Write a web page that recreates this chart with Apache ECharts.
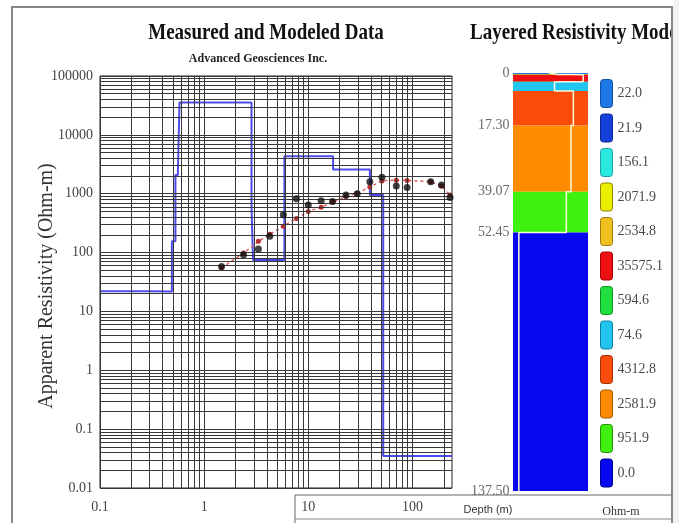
<!DOCTYPE html>
<html><head><meta charset="utf-8">
<script src="https://cdn.jsdelivr.net/npm/echarts@6/dist/echarts.min.js"></script>
<style>html,body{margin:0;padding:0;background:#fff}#c{width:679px;height:523px}</style>
</head><body><div id="c"></div>
<script>
// ---- data ----
const spacing  = [1.47, 2.39, 3.32, 4.27, 5.76, 7.7, 10, 13.3, 17.1, 23, 29.5, 39, 51, 70, 89, 150, 190, 230];
const measured = [58, 92, 115, 190, 440, 820, 640, 760, 740, 950, 1000, 1600, 1900, 1350, 1280, 1600, 1400, 860];
const modeled  = [55, 98, 155, 205, 280, 380, 500, 590, 720, 900, 1020, 1300, 1650, 1700, 1680, 1600, 1350, 950];
const layerRes    = [22.0, 21.9, 156.1, 2071.9, 2534.8, 35575.1, 594.6, 74.6, 4312.8, 2581.9, 951.9, 0.035];
const layerLabels = ['22.0','21.9','156.1','2071.9','2534.8','35575.1','594.6','74.6','4312.8','2581.9','951.9','0.0'];
const layerBottom = [0.30, 0.49, 0.53, 0.56, 0.58, 2.85, 2.95, 5.9, 17.30, 39.07, 52.45, 137.5];
const layerColors = ['#1e78e6','#1440d8','#28e8e0','#e8f000','#f0c020','#ee1010','#20e040','#22c4f0','#fa4c0a','#ff8c00','#40f010','#0808f0'];
const layerBorders= ['#1050a0','#0c2890','#20a0a0','#908000','#a07810','#a00000','#109020','#1080a0','#a03000','#a05800','#209008','#000090'];
const depthTicks      = [0, 17.30, 39.07, 52.45, 137.5];
const depthTickLabels = ['0','17.30','39.07','52.45','137.50'];
const yTickLabels = ['0.01','0.1','1','10','100','1000','10000','100000'];
const xTickLabels = ['0.1','1','10','100'];
const xMin = 0.1, xMax = 240, yMin = 0.01, yMax = 100000;

// ---- derived ----
function fmt(labels){ return function(v){ for (const l of labels){ if (Math.abs(Math.log10(v) - Math.log10(+l)) < 1e-6) return l; } return ''; }; }
const xGrid = [], yGrid = [];
for (const d of [0.1,1,10,100]) for (let m=1;m<=9;m++){ const v=+(d*m).toPrecision(3); if (v<=xMax) xGrid.push(v); }
for (const d of [0.01,0.1,1,10,100,1000,10000]) for (let m=1;m<=9;m++){ yGrid.push(+(d*m).toPrecision(3)); }
yGrid.push(yMax);
const gridLineData = xGrid.map(v=>({xAxis:v})).concat(yGrid.map(v=>({yAxis:v})));

const stepPts = [];
let topD = 0;
layerRes.forEach((r,i)=>{
  const last = i === layerRes.length-1;
  stepPts.push([Math.max(topD, xMin), r]);
  stepPts.push([last ? xMax : layerBottom[i], r]);
  topD = layerBottom[i];
});
const whitePts = [];
topD = 0;
layerRes.forEach((r,i)=>{ whitePts.push([r, topD]); whitePts.push([r, layerBottom[i]]); topD = layerBottom[i]; });

const serif = 'Liberation Serif';
const layerSeries = layerRes.map((r,i)=>({
  name: layerLabels[i], type:'custom', xAxisIndex:1, yAxisIndex:1, z:2,
  itemStyle:{color: layerColors[i], borderColor: layerBorders[i], borderWidth:1},
  encode:{x:0, y:[1,2]},
  data:[[r, i===0?0:layerBottom[i-1], layerBottom[i]]],
  renderItem:function(params, api){
    const cs = params.coordSys;
    const p0 = api.coord([api.value(0), api.value(1)]);
    const p1 = api.coord([api.value(0), api.value(2)]);
    return {type:'rect', shape:{x:cs.x, y:p0[1], width:cs.width, height:Math.max(p1[1]-p0[1],0.5)}, style:{fill: layerColors[i]}};
  }
}));

const chart = echarts.init(document.getElementById('c'), null, {renderer:'canvas'});
chart.setOption({
  animation:false,
  backgroundColor:'#ffffff',
  grid:[
    {left:100, top:76, width:352, height:412, show:true, borderColor:'#222', borderWidth:1, backgroundColor:'rgba(0,0,0,0)'},
    {left:513, top:73, width:75, height:418, show:false}
  ],
  xAxis:[
    {type:'log', logBase:10, gridIndex:0, min:xMin, max:xMax, splitNumber:4,
     axisLine:{show:false}, axisTick:{show:false}, splitLine:{show:false},
     axisLabel:{formatter:fmt(xTickLabels), fontFamily:serif, fontSize:14, color:'#444', margin:12, showMaxLabel:false}},
    {type:'log', logBase:10, gridIndex:1, min:yMin, max:yMax, show:false}
  ],
  yAxis:[
    {type:'log', logBase:10, gridIndex:0, min:yMin, max:yMax, splitNumber:7,
     axisLine:{show:false}, axisTick:{show:false}, splitLine:{show:false},
     axisLabel:{formatter:fmt(yTickLabels), fontFamily:serif, fontSize:14, color:'#444', margin:7}},
    {type:'value', gridIndex:1, min:0, max:137.5, inverse:true, show:false}
  ],
  legend:{
    orient:'vertical', left:600, top:79, padding:0, itemWidth:12, itemHeight:28, itemGap:5.5, icon:'roundRect',
    selectedMode:false, textStyle:{fontFamily:serif, fontSize:14, color:'#4a4a4a'},
    data: layerLabels.map((n,i)=>({name:n, itemStyle:{color:layerColors[i], borderColor:layerBorders[i], borderWidth:1}}))
  },
  series:[
    {type:'line', name:'grid', xAxisIndex:0, yAxisIndex:0, data:[[xMin,yMin]], symbol:'none', lineStyle:{opacity:0}, silent:true, z:1,
     markLine:{silent:true, symbol:['none','none'], label:{show:false}, lineStyle:{color:'#383838', width:1, type:'solid'}, data:gridLineData}},
    {type:'line', name:'model', xAxisIndex:0, yAxisIndex:0, data:stepPts, symbol:'none', lineStyle:{color:'#4c4cee', width:2}, z:3},
    {type:'line', name:'calc', xAxisIndex:0, yAxisIndex:0, data:spacing.map((x,i)=>[x, modeled[i]]), symbol:'circle', symbolSize:5,
     itemStyle:{color:'#b83030'}, lineStyle:{color:'#e06060', width:1.5, type:[3,3]}, z:4},
    {type:'scatter', name:'meas', xAxisIndex:0, yAxisIndex:0, data:spacing.map((x,i)=>[x, measured[i]]), symbolSize:7,
     itemStyle:{color:'#111'}, z:5},
    ...layerSeries,
    {type:'line', name:'colline', xAxisIndex:1, yAxisIndex:1, data:whitePts, symbol:'none', lineStyle:{color:'#fafad8', width:1.5}, z:6},
    {type:'scatter', name:'depthlabels', xAxisIndex:1, yAxisIndex:1, data:depthTicks.map(d=>[yMin, d]), symbolSize:1,
     itemStyle:{color:'rgba(0,0,0,0)'}, z:7, clip:false,
     label:{show:true, position:'left', distance:3, fontFamily:serif, fontSize:14, color:'#444',
            formatter:p=>depthTickLabels[p.dataIndex]}}
  ],
  graphic:[
    {type:'rect', shape:{x:12, y:7, width:660, height:540}, style:{fill:'none', stroke:'#888', lineWidth:2}, z:50},
    {type:'text', x:266, y:33, scaleY:1.2, style:{text:'Measured and Modeled Data', fontFamily:serif, fontWeight:'bold', fontSize:19, fill:'#111', align:'center', verticalAlign:'middle'}},
    {type:'text', x:258, y:59, style:{text:'Advanced Geosciences Inc.', fontFamily:serif, fontWeight:'bold', fontSize:12, fill:'#222', align:'center', verticalAlign:'middle'}},
    {type:'text', x:470, y:33, scaleY:1.2, style:{text:'Layered Resistivity Model', fontFamily:serif, fontWeight:'bold', fontSize:19, fill:'#111', align:'left', verticalAlign:'middle'}},
    {type:'rect', shape:{x:673, y:0, width:6, height:523}, style:{fill:'#f2f2f2'}, z:60},
    {type:'text', x:47, y:286, rotation:Math.PI/2, style:{text:'Apparent Resistivity (Ohm-m)', fontFamily:serif, fontSize:20, fill:'#333', align:'center', verticalAlign:'middle'}},
    {type:'line', shape:{x1:295, y1:495, x2:679, y2:495}, style:{stroke:'#666', lineWidth:1}, z:40},
    {type:'line', shape:{x1:295, y1:495, x2:295, y2:523}, style:{stroke:'#666', lineWidth:1}, z:40},
    {type:'line', shape:{x1:295, y1:519, x2:679, y2:519}, style:{stroke:'#888', lineWidth:1}, z:40},
    {type:'text', x:488, y:510, style:{text:'Depth (m)', fontFamily:'Liberation Sans', fontSize:11, fill:'#333', align:'center', verticalAlign:'middle'}},
    {type:'text', x:621, y:512, style:{text:'Ohm-m', fontFamily:serif, fontSize:12, fill:'#333', align:'center', verticalAlign:'middle'}}
  ]
});
</script></body></html>
